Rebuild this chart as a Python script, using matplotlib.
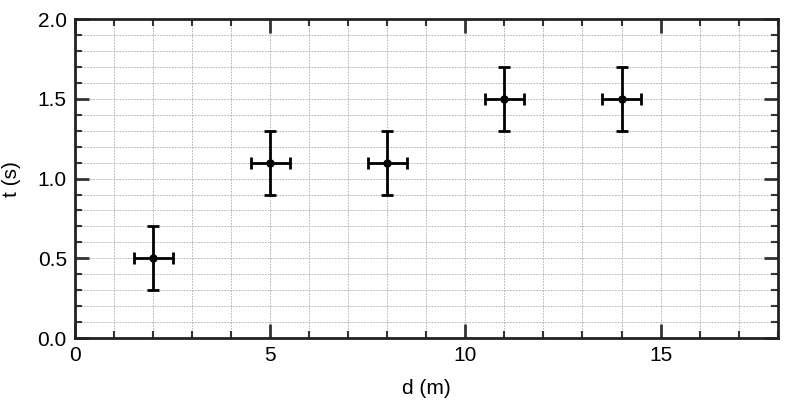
import matplotlib
matplotlib.use("Agg")
import matplotlib.pyplot as plt
from matplotlib.ticker import MultipleLocator

d = [2, 5, 8, 11, 14]
t = [0.5, 1.1, 1.1, 1.5, 1.5]
d_err = [0.5, 0.5, 0.5, 0.5, 0.5]
t_err = [0.2, 0.2, 0.2, 0.2, 0.2]

plt.rcParams['font.family'] = ['Liberation Sans', 'DejaVu Sans']

fig = plt.figure(figsize=(8, 4), dpi=100)
ax = fig.add_axes([0.094, 0.155, 0.878, 0.797])

ax.errorbar(d, t, xerr=d_err, yerr=t_err, fmt='o', color='black', ms=5,
            elinewidth=2, capsize=4, capthick=2, zorder=3)

ax.set_xlim(0, 18)
ax.set_ylim(0, 2.0)
ax.xaxis.set_major_locator(MultipleLocator(5))
ax.xaxis.set_minor_locator(MultipleLocator(1))
ax.yaxis.set_major_locator(MultipleLocator(0.5))
ax.yaxis.set_minor_locator(MultipleLocator(0.1))
ax.yaxis.set_major_formatter(matplotlib.ticker.FormatStrFormatter('%.1f'))

ax.grid(which='both', color='#aaaaaa', linestyle=(0, (2, 1.5)), linewidth=0.6)
ax.set_axisbelow(True)

ax.tick_params(which='both', direction='in', top=True, right=True, labelsize=15,
               color='#333333')
ax.tick_params(which='major', length=10, width=2, pad=6)
ax.tick_params(which='minor', length=5, width=1.5)
for s in ax.spines.values():
    s.set_linewidth(2)
    s.set_color('#222222')

ax.set_xlabel('d (m)', fontsize=15, labelpad=10)
ax.set_ylabel('t (s)', fontsize=15, labelpad=12)

fig.savefig('out.png', dpi=100)
